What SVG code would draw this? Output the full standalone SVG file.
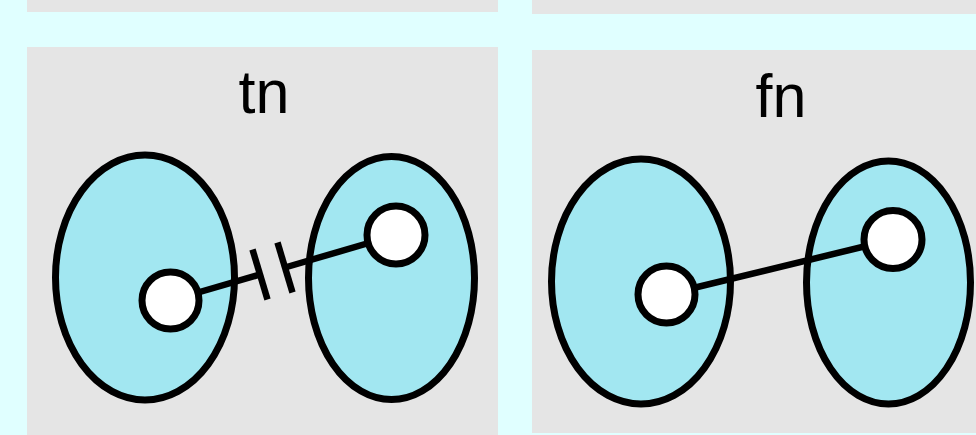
<svg xmlns="http://www.w3.org/2000/svg" width="976" height="435" viewBox="0 0 976 435">
<style>
.panel{fill:#e5e5e5}
.set{fill:#a2e7f1;stroke:#000;stroke-width:7}
.pt{fill:#fff;stroke:#000;stroke-width:7}
.edge{stroke:#000;stroke-width:6.5;fill:none}
.lbl{font-family:"Liberation Sans",Arial,sans-serif;font-size:61px;text-anchor:middle;fill:#000}
</style>
<rect width="976" height="435" fill="#e0ffff"/>
<rect class="panel" x="27" y="0" width="471" height="12"/>
<rect class="panel" x="532" y="0" width="444" height="14"/>
<g id="panel-tn">
<rect class="panel" x="27" y="47" width="471" height="388"/>
<text class="lbl" x="264" y="113">tn</text>
</g>
<g id="panel-fn">
<rect class="panel" x="532" y="50" width="444" height="383"/>
<text class="lbl" x="781" y="117">fn</text>
</g>
<g id="tn-setA"><ellipse class="set" cx="145" cy="277.5" rx="89.5" ry="122.5"/></g>
<g id="tn-setB"><ellipse class="set" cx="391.5" cy="278" rx="83" ry="121.5"/></g>
<g id="fn-setA"><ellipse class="set" cx="641" cy="281.5" rx="89.5" ry="122.5"/></g>
<g id="fn-setB"><ellipse class="set" cx="888.5" cy="282.5" rx="82" ry="121.5"/></g>
<g id="connectors">
<line class="edge" x1="170.5" y1="300.5" x2="260" y2="274.5"/>
<line class="edge" x1="285" y1="267.5" x2="396" y2="235"/>
<line class="edge" stroke-width="7" x1="252.5" y1="249.5" x2="267.5" y2="299.5"/>
<line class="edge" stroke-width="7" x1="277.5" y1="242.5" x2="292.5" y2="292.5"/>
<line class="edge" x1="666.5" y1="294.5" x2="893" y2="239.5"/>
</g>
<g id="tn-a"><circle class="pt" cx="170.5" cy="300.5" r="28.5"/></g>
<g id="tn-b"><circle class="pt" cx="396" cy="235" r="29"/></g>
<g id="fn-a"><circle class="pt" cx="666.5" cy="294.5" r="28.5"/></g>
<g id="fn-b"><circle class="pt" cx="893" cy="239.5" r="29"/></g>
</svg>
